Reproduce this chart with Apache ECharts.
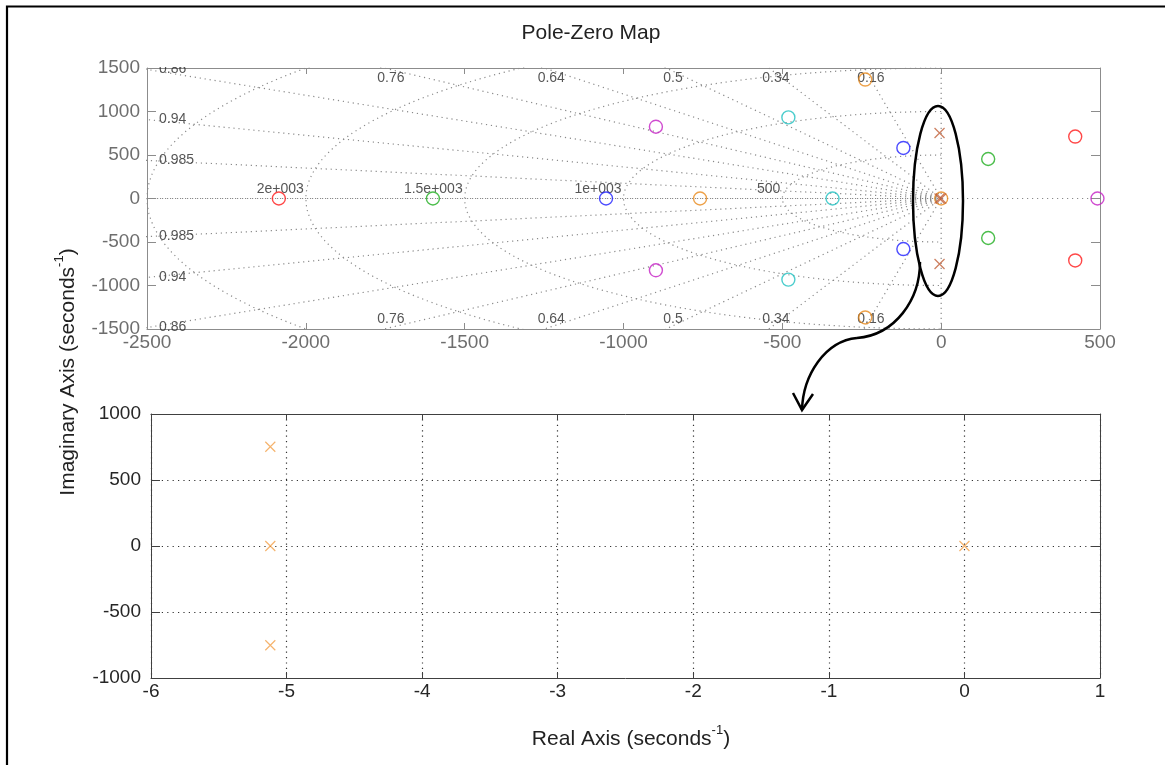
<!DOCTYPE html>
<html>
<head>
<meta charset="utf-8">
<script src="https://cdn.jsdelivr.net/npm/echarts@6/dist/echarts.min.js"></script>
<style>
html,body{margin:0;padding:0;background:#fff;}
#chart{width:1165px;height:765px;}
</style>
</head>
<body>
<div id="chart"></div>
<script>
// ---------- data ----------
const topXTicks = {min: -2500, max: 500, interval: 500};
const topYTicks = {min: -1500, max: 1500, interval: 500};
const botXTicks = {min: -6, max: 1, interval: 1};
const botYTicks = {min: -1000, max: 1000, interval: 500};

// zeros (circles), top pole-zero map
const zerosRed     = [[-2085, 0], [422, 712], [422, -712]];
const zerosGreen   = [[-1600, 0], [148, 454], [148, -454]];
const zerosBlue    = [[-1055, 0], [-119, 581], [-119, -581]];
const zerosOrange  = [[-759, 0], [-239, 1367], [-239, -1367], [0, 0]];
const zerosMagenta = [[-898, 825], [-898, -825], [492, 0]];
const zerosCyan    = [[-342, 0], [-481, 932], [-481, -932]];
// poles (crosses)
const poles = [[-5.12, 752], [-5.12, 0], [-5.12, -752], [0, 0]];

// s-plane grid
const zetaValues = [0.16, 0.34, 0.5, 0.64, 0.76, 0.86, 0.94, 0.985, 1];
const zetaLabels = ['0.16', '0.34', '0.5', '0.64', '0.76', '0.86', '0.94', '0.985', ''];
const wnValues = [500, 1000, 1500, 2000, 2500];
const wnLabels = ['500', '1e+003', '1.5e+003', '2e+003', ''];

// ---------- build ----------
const FONT = 'Liberation Sans, Arial, Helvetica, sans-serif';
const GRIDC = '#8a8a8a';

function gridLine(data) {
  return {type: 'line', xAxisIndex: 0, yAxisIndex: 0, data: data, symbol: 'none', silent: true,
    clip: true, z: 1, lineStyle: {color: GRIDC, width: 1.2, type: [1.2, 3.8]}};
}
const series = [];
// damping rays
zetaValues.forEach(function (z) {
  const s = Math.sqrt(1 - z * z);
  series.push(gridLine([[0, 0], [-5000 * z, 5000 * s]]));
  if (s > 0) series.push(gridLine([[0, 0], [-5000 * z, -5000 * s]]));
});
// natural frequency semicircles
wnValues.forEach(function (w) {
  const pts = [];
  for (let a = 90; a <= 270; a += 2) {
    const r = a * Math.PI / 180;
    pts.push([w * Math.cos(r), w * Math.sin(r)]);
  }
  series.push(gridLine(pts));
});
// axes through origin
series.push(gridLine([[topXTicks.min, 0], [topXTicks.max, 0]]));
series.push(gridLine([[0, topYTicks.min], [0, topYTicks.max]]));

// damping labels
const leftLab = [], topLab = [], botLab = [];
zetaValues.forEach(function (z, i) {
  if (!zetaLabels[i]) return;
  const t = Math.sqrt(1 - z * z) / z;
  const yEdge = -topXTicks.min * t;
  if (yEdge <= topYTicks.max) {
    leftLab.push({value: [topXTicks.min, yEdge], name: zetaLabels[i]});
    leftLab.push({value: [topXTicks.min, -yEdge], name: zetaLabels[i]});
  } else {
    const xEdge = -topYTicks.max / t;
    topLab.push({value: [xEdge, topYTicks.max], name: zetaLabels[i]});
    botLab.push({value: [xEdge, topYTicks.min], name: zetaLabels[i]});
  }
});
function labelSeries(data, lab) {
  return {type: 'scatter', xAxisIndex: 0, yAxisIndex: 0, data: data, symbolSize: 0.1, silent: true, z: 3,
    itemStyle: {color: 'rgba(0,0,0,0)'},
    label: Object.assign({show: true, position: 'inside', formatter: '{b}', color: '#2a2a2a', fontSize: 14, fontFamily: FONT}, lab)};
}
series.push(labelSeries(leftLab, {align: 'left', verticalAlign: 'middle', offset: [12, 0]}));
series.push(labelSeries(topLab, {align: 'center', verticalAlign: 'top', offset: [7, 3]}));
series.push(labelSeries(botLab, {align: 'center', verticalAlign: 'bottom', offset: [7, -3]}));
const wnLab = [];
wnValues.forEach(function (w, i) { if (wnLabels[i]) wnLab.push({value: [-w, 0], name: wnLabels[i]}); });
series.push(labelSeries(wnLab, {align: 'right', verticalAlign: 'bottom', offset: [-2, -2]}));

// markers
function zeroSeries(data, color) {
  return {type: 'scatter', xAxisIndex: 0, yAxisIndex: 0, data: data, symbol: 'circle', symbolSize: 13, z: 5,
    itemStyle: {color: 'rgba(0,0,0,0)', borderColor: color, borderWidth: 1.4}};
}
series.push(zeroSeries(zerosRed, '#ff1a1a'));
series.push(zeroSeries(zerosGreen, '#1fae1f'));
series.push(zeroSeries(zerosBlue, '#1f1fff'));
series.push(zeroSeries(zerosOrange, '#e8891c'));
series.push(zeroSeries(zerosMagenta, '#c41fc4'));
series.push(zeroSeries(zerosCyan, '#1fc0c0'));
const CROSS = 'path://M0,0L10,10M10,0L0,10';
series.push({type: 'scatter', xAxisIndex: 0, yAxisIndex: 0, data: poles, symbol: CROSS, symbolSize: 10, z: 6,
  itemStyle: {color: 'none', borderColor: '#c0603a', borderWidth: 1.3}});
series.push({type: 'scatter', xAxisIndex: 1, yAxisIndex: 1, data: poles, symbol: CROSS, symbolSize: 10, z: 6,
  itemStyle: {color: 'none', borderColor: '#f2a04a', borderWidth: 1.2}});

function axisCommon(t, color, labColor, show, pos, gridIndex, tickLen, margin, split) {
  return {type: 'value', gridIndex: gridIndex, position: pos, min: t.min, max: t.max, interval: t.interval,
    axisLine: {show: true, onZero: false, lineStyle: {color: color, width: 1}},
    axisTick: {show: true, inside: true, length: tickLen, lineStyle: {color: color}},
    axisLabel: {show: show, color: labColor, fontSize: 19, fontFamily: FONT, margin: margin,
      formatter: function (v) { return String(v); }},
    splitLine: split ? {show: true, lineStyle: {color: '#333', width: 1.2, type: [1.2, 4.2]}} : {show: false}};
}
const TOPC = '#8c8c8c', TOPL = '#6e6e6e', BOTC = '#404040', BOTL = '#262626';

const option = {
  animation: false,
  backgroundColor: '#ffffff',
  grid: [
    {left: 147, top: 68, width: 953, height: 261},
    {left: 151, top: 414, width: 949, height: 264}
  ],
  xAxis: [
    axisCommon(topXTicks, TOPC, TOPL, true, 'bottom', 0, 6, 4, false),
    axisCommon(botXTicks, BOTC, BOTL, true, 'bottom', 1, 6, 4, true),
    axisCommon(topXTicks, TOPC, TOPL, false, 'top', 0, 6, 4, false),
    axisCommon(botXTicks, BOTC, BOTL, false, 'top', 1, 6, 4, false)
  ],
  yAxis: [
    axisCommon(topYTicks, TOPC, TOPL, true, 'left', 0, 9, 7, false),
    axisCommon(botYTicks, BOTC, BOTL, true, 'left', 1, 9, 10, true),
    axisCommon(topYTicks, TOPC, TOPL, false, 'right', 0, 9, 7, false),
    axisCommon(botYTicks, BOTC, BOTL, false, 'right', 1, 9, 10, false)
  ],
  series: series,
  graphic: [
    {type: 'rect', z: 100, silent: true, shape: {x: 150, y: 48, width: 50, height: 19}, style: {fill: '#fff'}},
    {type: 'rect', z: 100, silent: true, shape: {x: 7, y: 6.5, width: 1300, height: 900},
      style: {fill: 'none', stroke: '#000', lineWidth: 2.2}},
    {type: 'text', z: 100, x: 591, y: 33, style: {text: 'Pole-Zero Map', fill: '#222', font: '21px ' + FONT,
      align: 'center', verticalAlign: 'middle'}},
    {type: 'text', z: 100, x: 631, y: 737, style: {
      text: '{a|Real Axis (seconds}{b|-1}{a|)}', align: 'center', verticalAlign: 'middle',
      rich: {a: {fontSize: 21, fontFamily: FONT, fill: '#222', lineHeight: 26, verticalAlign: 'bottom'},
             b: {fontSize: 13, fontFamily: FONT, fill: '#222', lineHeight: 26, verticalAlign: 'top'}}}},
    {type: 'text', z: 100, x: 66, y: 372, rotation: Math.PI / 2, style: {
      text: '{a|Imaginary Axis (seconds}{b|-1}{a|)}', align: 'center', verticalAlign: 'middle',
      rich: {a: {fontSize: 21, fontFamily: FONT, fill: '#222', lineHeight: 26, verticalAlign: 'bottom'},
             b: {fontSize: 13, fontFamily: FONT, fill: '#222', lineHeight: 26, verticalAlign: 'top'}}}},
    {type: 'ellipse', z: 100, silent: true, shape: {cx: 938, cy: 201, rx: 25, ry: 95},
      style: {fill: 'none', stroke: '#000', lineWidth: 2.5}},
    {type: 'bezierCurve', z: 100, silent: true,
      shape: {x1: 920, y1: 262, cpx1: 920, cpy1: 300, cpx2: 895, cpy2: 335, x2: 857, y2: 338},
      style: {fill: 'none', stroke: '#000', lineWidth: 2.5}},
    {type: 'bezierCurve', z: 100, silent: true,
      shape: {x1: 857, y1: 338, cpx1: 825, cpy1: 341, cpx2: 803, cpy2: 375, x2: 802, y2: 410},
      style: {fill: 'none', stroke: '#000', lineWidth: 2.5}},
    {type: 'polyline', z: 100, silent: true, shape: {points: [[793, 393], [802, 410], [813, 394]]},
      style: {fill: 'none', stroke: '#000', lineWidth: 2.5}}
  ]
};
const chart = echarts.init(document.getElementById('chart'), null, {renderer: 'canvas'});
chart.setOption(option);
</script>
</body>
</html>
